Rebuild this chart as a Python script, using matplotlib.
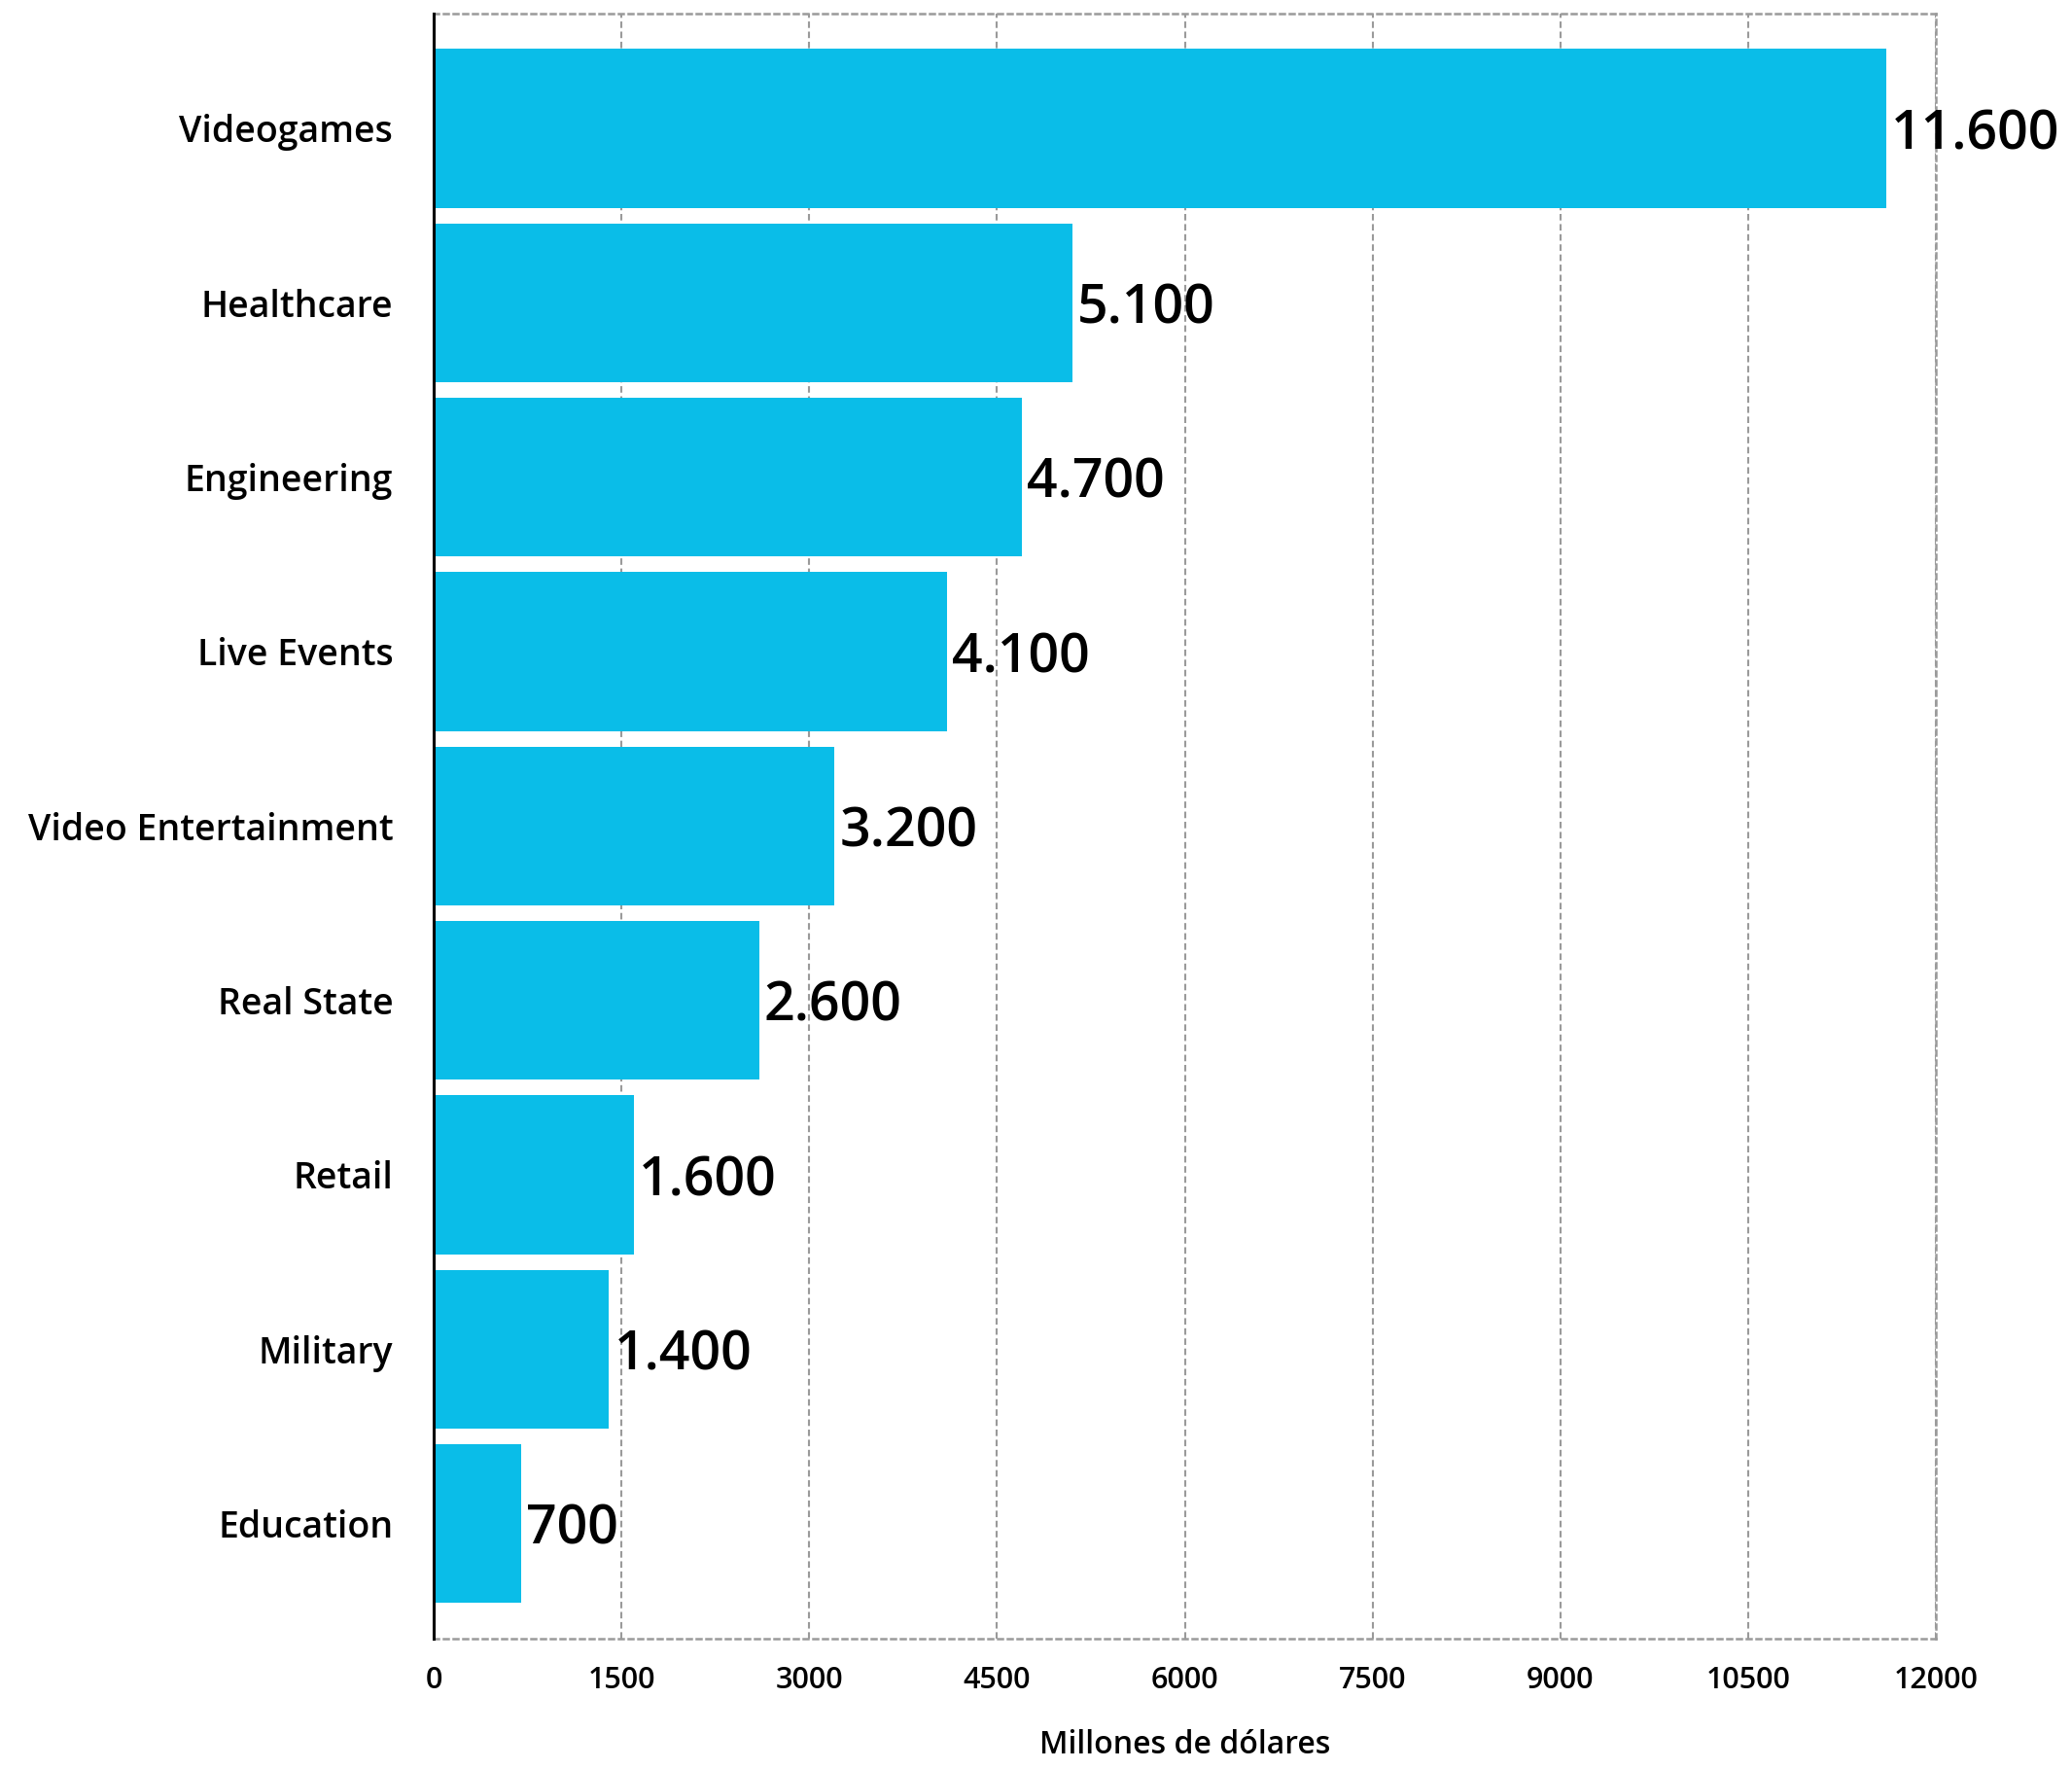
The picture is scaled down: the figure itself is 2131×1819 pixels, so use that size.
import matplotlib
matplotlib.use("Agg")
import matplotlib.pyplot as plt

plt.rcParams['font.family'] = ['Open Sans', 'DejaVu Sans']

# Data
categories = ["Videogames", "Healthcare", "Engineering", "Live Events",
              "Video Entertainment", "Real State", "Retail", "Military", "Education"]
values = [11600, 5100, 4700, 4100, 3200, 2600, 1600, 1400, 700]
value_labels = ["11.600", "5.100", "4.700", "4.100", "3.200", "2.600", "1.600", "1.400", "700"]
x_ticks = [0, 1500, 3000, 4500, 6000, 7500, 9000, 10500, 12000]
x_label = "Millones de dólares"

bar_color = "#0ABDE8"
grid_color = "#9A9A9A"

fig = plt.figure(figsize=(21.31, 18.19), dpi=100)
ax = fig.add_axes([446 / 2131, 1 - 1685 / 1819, (1991 - 446) / 2131, (1685 - 13.6) / 1819])

y = list(range(len(categories)))
ax.barh(y, values, height=0.91, color=bar_color, zorder=2)

# Value annotations right after each bar end
for yi, v, lab in zip(y, values, value_labels):
    ax.text(v + 40, yi + 0.04, lab, va="center", ha="left", fontsize=40,
            fontweight="semibold", color="black", zorder=3)

ax.set_xlim(0, 12000)
ax.set_ylim(len(categories) - 1 + 0.66, -0.66)
ax.set_xticks(x_ticks)
ax.set_xticklabels([str(t) for t in x_ticks], fontsize=22, fontweight="semibold")
ax.set_yticks(y)
ax.set_yticklabels(categories, fontsize=27, fontweight="semibold")
ax.tick_params(axis="both", length=0)
ax.tick_params(axis="x", pad=20)
ax.tick_params(axis="y", pad=30)

ax.grid(axis="x", color=grid_color, linestyle=(0, (3.2, 1.8)), linewidth=1.5, zorder=0)
ax.set_axisbelow(True)

for side in ("top", "right", "bottom"):
    ax.spines[side].set_color(grid_color)
    ax.spines[side].set_linestyle((0, (2, 2)))
    ax.spines[side].set_linewidth(1.8)
ax.spines["left"].set_color("black")
ax.spines["left"].set_linewidth(2.2)
ax.spines["left"].set_zorder(4)

fig.text((446 + 1991) / 2 / 2131, 1 - 1794 / 1819, x_label, ha="center", va="center",
         fontsize=23, fontweight="semibold")

fig.savefig("out.png", dpi=100, facecolor="white")
